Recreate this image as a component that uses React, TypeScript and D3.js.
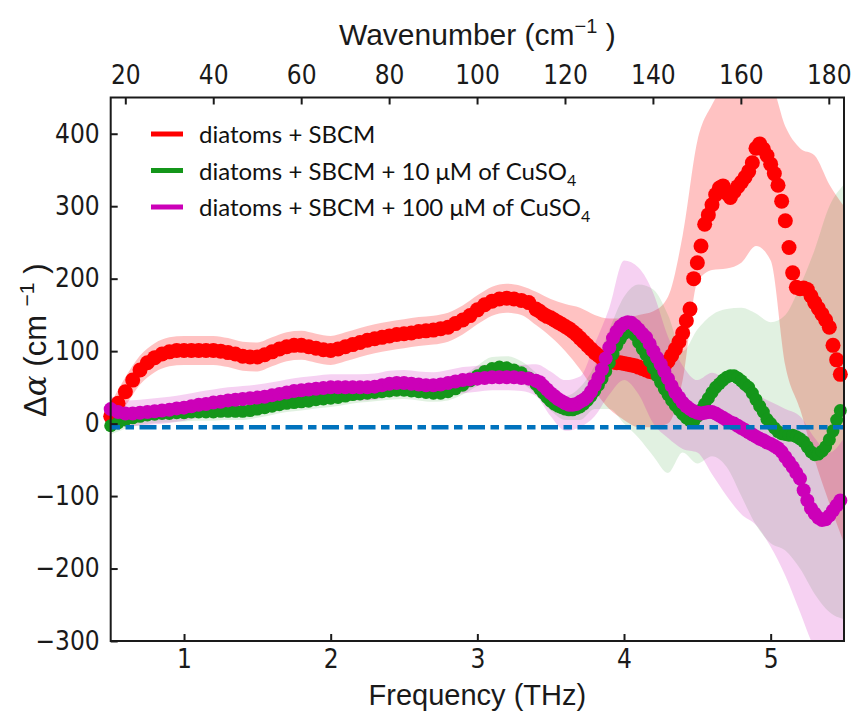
import React, { useEffect, useRef } from 'react';
import * as d3 from 'd3';

// measured frequencies (THz): 0.05 step up to 3.4, then 0.025 step
const freqs = [
  0.5, 0.55, 0.6, 0.65, 0.7, 0.75, 0.8, 0.85, 0.9, 0.95,
  1, 1.05, 1.1, 1.15, 1.2, 1.25, 1.3, 1.35, 1.4, 1.45,
  1.5, 1.55, 1.6, 1.65, 1.7, 1.75, 1.8, 1.85, 1.9, 1.95,
  2, 2.05, 2.1, 2.15, 2.2, 2.25, 2.3, 2.35, 2.4, 2.45,
  2.5, 2.55, 2.6, 2.65, 2.7, 2.75, 2.8, 2.85, 2.9, 2.95,
  3, 3.05, 3.1, 3.15, 3.2, 3.25, 3.3, 3.35, 3.4,
  3.425, 3.45, 3.475, 3.5, 3.525, 3.55, 3.575, 3.6, 3.625, 3.65,
  3.675, 3.7, 3.725, 3.75, 3.775, 3.8, 3.825, 3.85, 3.875, 3.9,
  3.925, 3.95, 3.975, 4, 4.025, 4.05, 4.075, 4.1, 4.125, 4.15,
  4.175, 4.2, 4.225, 4.25, 4.275, 4.3, 4.325, 4.35, 4.375, 4.4,
  4.425, 4.45, 4.475, 4.5, 4.525, 4.55, 4.575, 4.6, 4.625, 4.65,
  4.675, 4.7, 4.725, 4.75, 4.775, 4.8, 4.825, 4.85, 4.875, 4.9,
  4.925, 4.95, 4.975, 5, 5.025, 5.05, 5.075, 5.1, 5.125, 5.15,
  5.175, 5.2, 5.225, 5.25, 5.275, 5.3, 5.325, 5.35, 5.375, 5.4,
  5.425, 5.45, 5.475,
];

// diatoms + SBCM
const diatoms = [
  10, 28, 44, 60, 74, 84, 91, 96, 99, 101,
  101, 101, 101, 101, 101, 100, 98, 96, 93, 92,
  92, 95, 99, 103, 106, 108, 108, 106, 104, 102,
  101, 103, 106, 109, 112, 115, 117, 119, 121, 123,
  124, 125, 127, 128, 129, 131, 133, 138, 143, 149,
  157, 164, 169, 172, 173, 172, 170, 167, 158,
  155, 151, 148, 146, 143, 140, 137, 134, 131, 127,
  123, 118, 113, 108, 103, 98, 94, 90, 88, 86,
  85, 84, 84, 83, 82, 81, 80, 78, 76, 74,
  72, 71, 72, 76, 80, 86, 94, 103, 113, 125,
  142, 158, 200, 222, 245, 275, 288, 302, 316, 325,
  328, 318, 312, 320, 327, 333, 340, 348, 360, 380,
  386, 379, 370, 358, 345, 329, 307, 280, 243, 208,
  188, 186, 187, 185, 176, 167, 159, 151, 143, 133,
  108, 88, 68,
];

// diatoms + SBCM + 10 uM CuSO4
const cu10 = [
  -3, 1, 5, 8, 10, 12, 13, 14, 14, 15,
  15, 16, 16, 16, 16, 17, 17, 17, 17, 18,
  20, 22, 24, 26, 28, 29, 30, 31, 33, 34,
  35, 36, 38, 40, 41, 42, 43, 44, 45, 46,
  46, 45, 44, 43, 42, 42, 44, 48, 53, 59,
  66, 72, 76, 78, 77, 74, 70, 63, 54,
  48, 42, 36, 31, 27, 24, 22, 20, 19, 19,
  21, 23, 27, 32, 38, 45, 53, 62, 72, 84,
  96, 108, 117, 124, 128, 129, 122, 112, 103, 95,
  86, 76, 66, 57, 48, 40, 32, 25, 19, 13,
  8, 4, 3, 10, 19, 27, 35, 43, 50, 55,
  60, 64, 66, 66, 63, 59, 54, 50, 42, 33,
  24, 16, 6, 0, -6, -11, -14, -15, -16, -16,
  -18, -21, -25, -32, -39, -43, -42, -38, -32, -22,
  -10, 5, 18,
];

// diatoms + SBCM + 100 uM CuSO4
const cu100 = [
  20, 16, 14, 14, 15, 16, 17, 18, 19, 21,
  22, 24, 26, 27, 29, 30, 32, 33, 34, 35,
  36, 37, 39, 41, 43, 45, 46, 47, 48, 49,
  50, 50, 50, 50, 50, 50, 51, 53, 55, 56,
  56, 55, 54, 53, 53, 54, 56, 58, 60, 61,
  62, 63, 64, 64, 64, 64, 63, 62, 59,
  57, 52, 47, 42, 38, 34, 31, 28, 26, 26,
  27, 30, 33, 37, 44, 53, 63, 75, 90, 105,
  118, 127, 134, 138, 140, 139, 135, 130, 124, 119,
  110, 100, 91, 82, 72, 62, 52, 43, 36, 29,
  24, 20, 17, 15, 14, 15, 16, 16, 14, 11,
  8, 5, 2, 0, -3, -6, -9, -12, -15, -18,
  -21, -23, -26, -28, -31, -34, -39, -46, -53, -60,
  -68, -76, -92, -106, -117, -124, -130, -133, -132, -127,
  -120, -113, -106,
];

// error bands, 0.1 THz grid
const bandFreqs = [
  0.5, 0.6, 0.7, 0.8, 0.9, 1, 1.1, 1.2, 1.3, 1.4,
  1.5, 1.6, 1.7, 1.8, 1.9, 2, 2.1, 2.2, 2.3, 2.4,
  2.5, 2.6, 2.7, 2.8, 2.9, 3, 3.1, 3.2, 3.3, 3.4,
  3.5, 3.6, 3.7, 3.8, 3.9, 4, 4.1, 4.2, 4.3, 4.4,
  4.5, 4.6, 4.7, 4.8, 4.9, 5, 5.1, 5.2, 5.3, 5.4,
  5.5,
];
const diatomsLo = [
  -8, 24, 54, 71, 79, 81, 81, 81, 78, 73,
  72, 79, 86, 88, 84, 81, 86, 92, 97, 101,
  104, 107, 109, 113, 123, 137, 149, 153, 150, 136,
  120, 100, 75, 45, 20, 5, -5, -5, 0, 60,
  195, 212, 214, 222, 245, 225, 80, 20, -50, -110,
  -165,
];
const diatomsHi = [
  28, 64, 94, 111, 119, 121, 121, 121, 118, 113,
  112, 119, 126, 128, 124, 121, 126, 132, 137, 141,
  144, 147, 149, 153, 163, 177, 189, 193, 190, 182,
  172, 165, 160, 150, 145, 145, 150, 155, 175, 260,
  390, 440, 470, 480, 480, 470, 410, 380, 370, 330,
  300,
];
const cu10Lo = [
  -15, -7, -2, 1, 2, 3, 4, 4, 5, 5,
  8, 12, 16, 18, 21, 23, 26, 29, 31, 33,
  34, 32, 30, 32, 40, 52, 62, 63, 56, 40,
  18, 5, 5, 20, 20, 0, -20, -45, -68, -40,
  -55, -45, -60, -100, -140, -165, -175, -200, -235, -260,
  -270,
];
const cu10Hi = [
  9, 17, 22, 25, 26, 27, 28, 28, 29, 29,
  32, 36, 40, 42, 45, 47, 50, 53, 55, 57,
  58, 56, 54, 56, 66, 80, 92, 93, 86, 70,
  46, 38, 50, 80, 130, 175, 192, 185, 150, 100,
  130, 150, 158, 160, 152, 140, 150, 190, 240, 300,
  330,
];
const cu100Lo = [
  2, -4, -3, -1, 1, 4, 8, 11, 14, 16,
  18, 21, 25, 28, 30, 32, 32, 32, 33, 37,
  38, 36, 35, 38, 42, 44, 46, 46, 45, 38,
  10, -10, -5, 10, 40, 60, 40, 0, -20, -35,
  -40, -70, -100, -125, -140, -170, -210, -260, -310, -330,
  -330,
];
const cu100Hi = [
  38, 32, 33, 35, 37, 40, 44, 47, 50, 52,
  54, 57, 61, 64, 66, 68, 68, 68, 69, 73,
  74, 72, 71, 74, 78, 80, 82, 82, 81, 82,
  72, 60, 65, 110, 160, 225, 215, 180, 120, 80,
  60, 70, 60, 50, 40, 30, 20, 10, -20, -40,
  -20,
];

const refLevel = -5; // dash-dot reference line

const freqTicks = [1, 2, 3, 4, 5];
const alphaTicks = [-300, -200, -100, 0, 100, 200, 300, 400];
const waveTicks = [20, 40, 60, 80, 100, 120, 140, 160, 180];

const legendLabels = ['diatoms + SBCM', 'diatoms + SBCM + 10 μM of CuSO', 'diatoms + SBCM + 100 μM of CuSO'];
const legendSubs = ['', '4', '4'];

const THZ_TO_CM = 33.356;

const width = 853;
const height = 713;
const margin = { top: 97.5, right: 9, bottom: 72, left: 110.7 };
const axisFont = "'Liberation Sans', Arial, sans-serif";
const tickFont = "'Liberation Sans Narrow', 'Arial Narrow', 'DejaVu Sans Condensed', sans-serif";
const ink = '#1a1a1a';

const App = () => {
  const ref = useRef<SVGSVGElement>(null);

  useEffect(() => {
    const svg = d3.select(ref.current);
    svg.selectAll('*').remove();

    const x = d3.scaleLinear().domain([0.5, 5.5]).range([margin.left, width - margin.right]);
    const y = d3.scaleLinear().domain([-300, 450]).range([height - margin.bottom, margin.top]);
    const xWave = d3.scaleLinear()
      .domain(x.domain().map(f => f * THZ_TO_CM))
      .range(x.range());

    const series = [
      { vals: diatoms, lo: diatomsLo, hi: diatomsHi, color: '#ff0000', band: 0.24, r: 7.5 },
      { vals: cu10, lo: cu10Lo, hi: cu10Hi, color: '#14961a', band: 0.13, r: 6.5 },
      { vals: cu100, lo: cu100Lo, hi: cu100Hi, color: '#cc00b8', band: 0.18, r: 7 },
    ];

    svg.append('defs').append('clipPath').attr('id', 'plot-area')
      .append('rect')
      .attr('x', margin.left)
      .attr('y', margin.top)
      .attr('width', width - margin.left - margin.right)
      .attr('height', height - margin.top - margin.bottom);

    // shaded error bands
    const bandLayer = svg.append('g').attr('clip-path', 'url(#plot-area)');
    series.forEach(s => {
      const area = d3.area<number>()
        .x(i => x(bandFreqs[i]))
        .y0(i => y(s.lo[i]))
        .y1(i => y(s.hi[i]))
        .curve(d3.curveMonotoneX);
      bandLayer.append('path')
        .datum(d3.range(bandFreqs.length))
        .attr('d', area)
        .attr('fill', s.color)
        .attr('fill-opacity', s.band);
    });

    // markers
    series.forEach(s => {
      svg.append('g')
        .selectAll('circle')
        .data(s.vals)
        .join('circle')
        .attr('cx', (d, i) => x(freqs[i]))
        .attr('cy', d => y(d))
        .attr('r', s.r)
        .attr('fill', s.color);
    });

    // reference line
    svg.append('line')
      .attr('x1', x(0.5))
      .attr('x2', x(5.5))
      .attr('y1', y(refLevel))
      .attr('y2', y(refLevel))
      .attr('stroke', '#0072bd')
      .attr('stroke-width', 4.5)
      .attr('stroke-dasharray', '17 5.5 8.5 5.5')
      .attr('stroke-dashoffset', 7.7);

    const styleAxis = (g, size) => {
      g.select('.domain').remove();
      g.attr('font-family', tickFont).attr('font-size', size).style('color', ink);
      g.selectAll('line').attr('stroke-width', 2);
    };

    svg.append('g')
      .attr('transform', `translate(0,${height - margin.bottom})`)
      .call(d3.axisBottom(x).tickValues(freqTicks).tickSize(-7).tickPadding(9).tickFormat(d3.format('d')))
      .call(g => styleAxis(g, 26));

    svg.append('g')
      .attr('transform', `translate(${margin.left},0)`)
      .call(d3.axisLeft(y).tickValues(alphaTicks).tickSize(-7).tickPadding(11).tickFormat(d3.format('d')))
      .call(g => styleAxis(g, 26));

    svg.append('g')
      .attr('transform', `translate(0,${margin.top})`)
      .call(d3.axisTop(xWave).tickValues(waveTicks).tickSize(-7).tickPadding(14).tickFormat(d3.format('d')))
      .call(g => styleAxis(g, 26));

    // frame
    svg.append('rect')
      .attr('x', margin.left)
      .attr('y', margin.top)
      .attr('width', width - margin.left - margin.right)
      .attr('height', height - margin.top - margin.bottom)
      .attr('fill', 'none')
      .attr('stroke', ink)
      .attr('stroke-width', 2);

    const cx = (margin.left + width - margin.right) / 2;

    // top axis title
    const top = svg.append('text')
      .attr('x', cx).attr('y', 45)
      .attr('text-anchor', 'middle')
      .attr('font-family', axisFont).attr('font-size', 30).attr('fill', ink);
    top.append('tspan').text('Wavenumber (cm');
    top.append('tspan').attr('dy', -12).attr('font-size', 20).text('−1');
    top.append('tspan').attr('dy', 12).text(' )');

    // bottom axis title
    svg.append('text')
      .attr('x', cx).attr('y', 705)
      .attr('text-anchor', 'middle')
      .attr('font-family', axisFont).attr('font-size', 29).attr('fill', ink)
      .text('Frequency (THz)');

    // left axis title
    const left = svg.append('text')
      .attr('transform', `translate(46,${(margin.top + height - margin.bottom) / 2 - 29}) rotate(-90)`)
      .attr('text-anchor', 'middle')
      .attr('font-family', axisFont).attr('font-size', 31).attr('fill', ink);
    left.append('tspan').text('Δ');
    left.append('tspan').attr('font-style', 'italic').attr('font-family', "'DejaVu Serif', serif").text('α');
    left.append('tspan').text(' (cm ');
    left.append('tspan').attr('dy', -12).attr('font-size', 21).text('−1');
    left.append('tspan').attr('dy', 12).text(' )');

    // legend
    const legend = svg.append('g');
    legendLabels.forEach((label, i) => {
      const ly = 134 + i * 36.5;
      legend.append('line')
        .attr('x1', 151).attr('x2', 183)
        .attr('y1', ly).attr('y2', ly)
        .attr('stroke', series[i].color)
        .attr('stroke-width', 5);
      const t = legend.append('text')
        .attr('x', 199).attr('y', ly + 9)
        .attr('font-family', "Lato, 'Open Sans', sans-serif")
        .attr('font-size', 24)
        .attr('fill', '#111');
      t.append('tspan').text(label);
      if (legendSubs[i]) {
        t.append('tspan').attr('dy', 6).attr('font-size', 16).text(legendSubs[i]);
      }
    });
  }, []);

  return (
    <svg
      ref={ref}
      width={width}
      height={height}
      style={{ position: 'absolute', left: 0, top: 0, background: '#fff' }}
    />
  );
};

export default App;
